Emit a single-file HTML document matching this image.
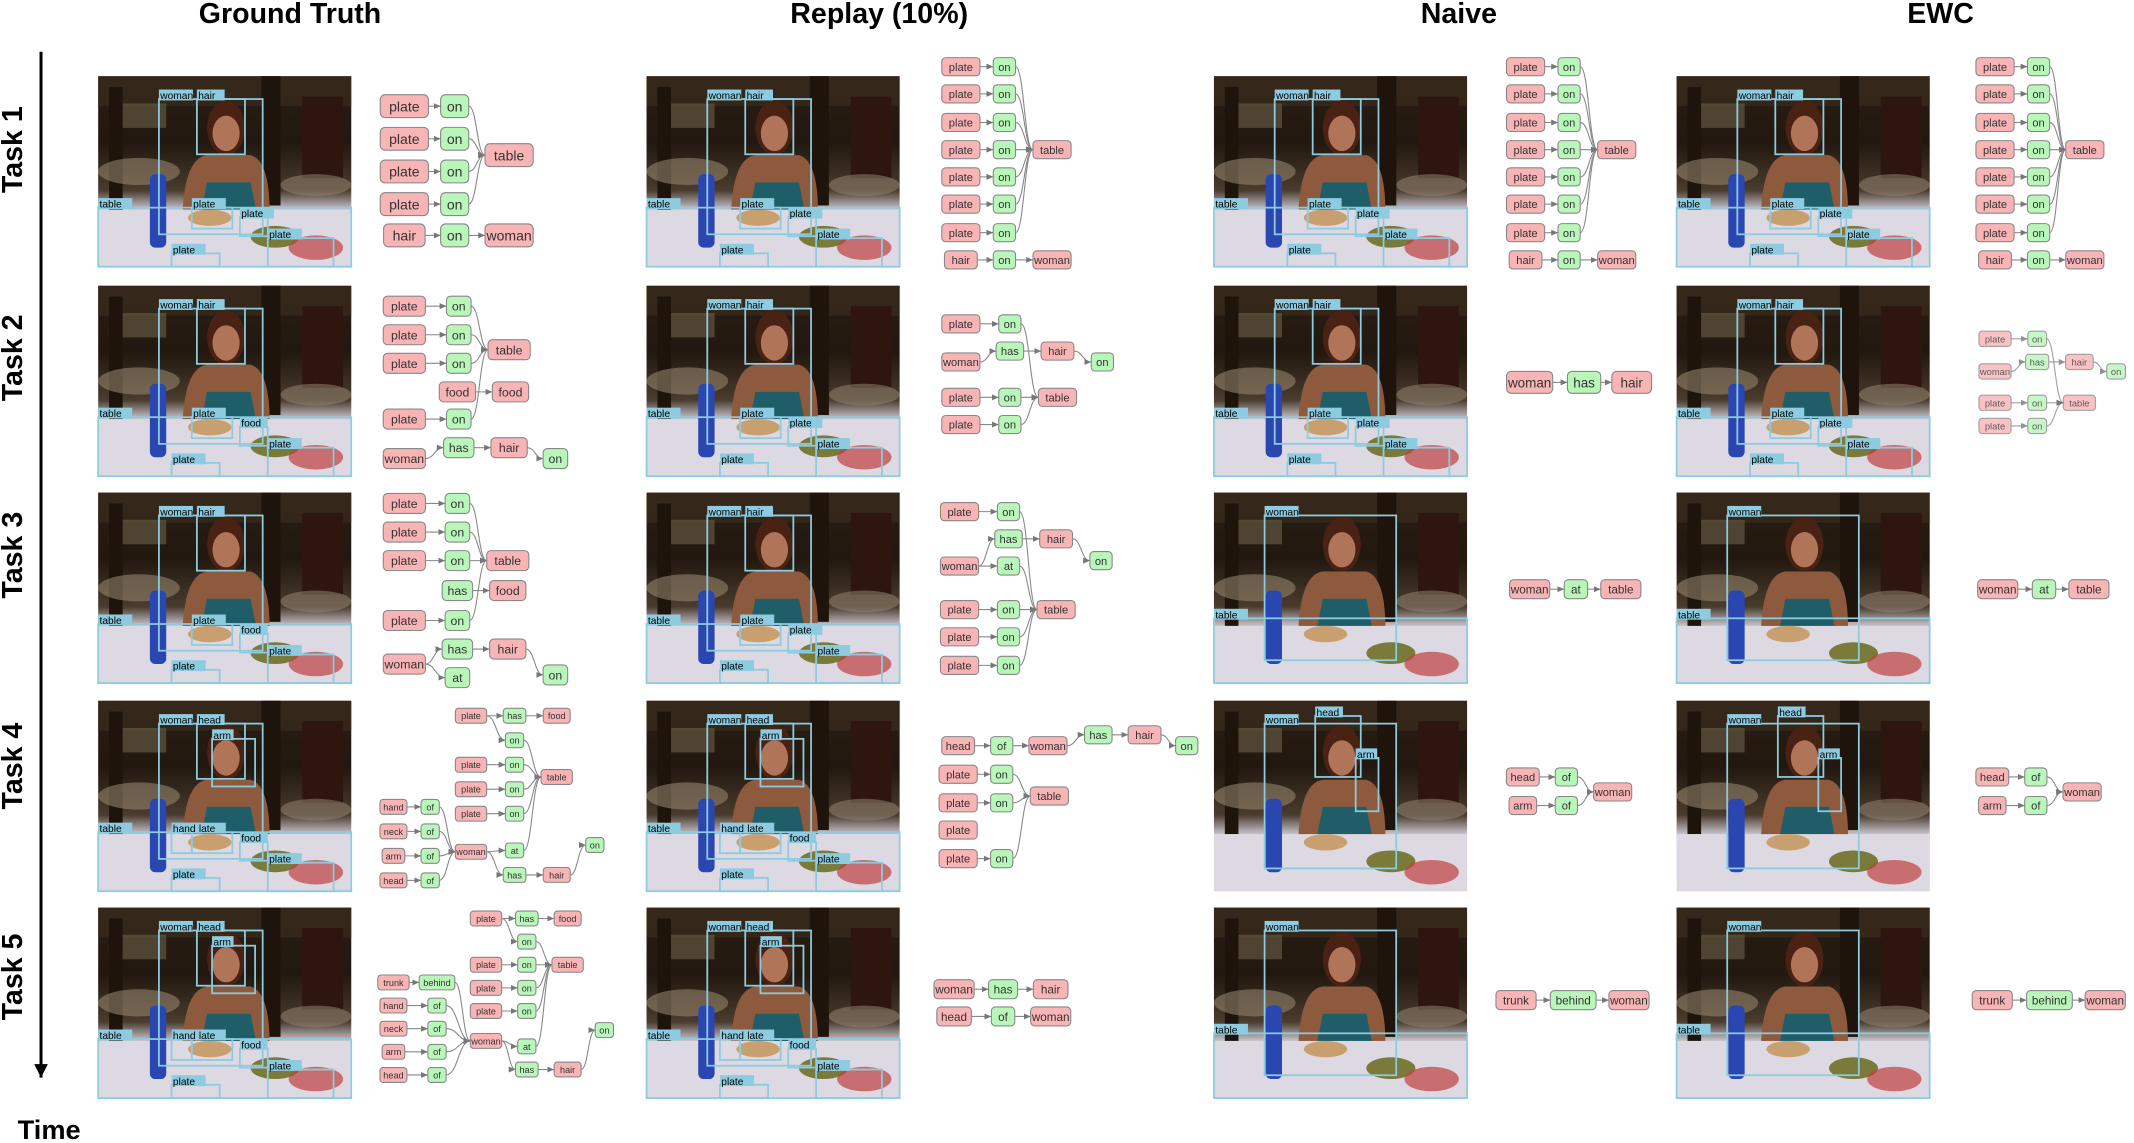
<!DOCTYPE html>
<html><head><meta charset="utf-8">
<style>
html,body{margin:0;padding:0;background:#fff;}
svg{display:block;}
text{font-family:"Liberation Sans",sans-serif;}
</style></head>
<body>
<svg id="s" width="2134" height="1143" viewBox="0 0 1568 840" xmlns="http://www.w3.org/2000/svg">
<defs>
<marker id="ar" markerWidth="6" markerHeight="6" refX="5" refY="3" orient="auto" markerUnits="userSpaceOnUse"><path d="M0,0.8 L5,3 L0,5.2z" fill="#777"/></marker>
<marker id="ax" markerWidth="12" markerHeight="12" refX="6" refY="10" orient="0" markerUnits="userSpaceOnUse"><path d="M1,0 L6,10 L11,0z" fill="#000"/></marker>
<linearGradient id="bg" x1="0" y1="0" x2="0" y2="1">
<stop offset="0" stop-color="#2a1e14"/><stop offset="0.35" stop-color="#22180f"/><stop offset="0.6" stop-color="#4a3c2e"/><stop offset="0.7" stop-color="#c8c4cc"/><stop offset="1" stop-color="#e2e0e8"/></linearGradient>
</defs>
<g font-weight="bold" font-size="21" text-anchor="middle" fill="#000">
<text x="213" y="17">Ground Truth</text>
<text x="646" y="17">Replay (10%)</text>
<text x="1072" y="17">Naive</text>
<text x="1426" y="17">EWC</text>
<text x="36" y="837" font-size="20">Time</text>
<text transform="translate(16,110) rotate(-90)" font-size="21">Task 1</text>
<text transform="translate(16,263) rotate(-90)" font-size="21">Task 2</text>
<text transform="translate(16,408) rotate(-90)" font-size="21">Task 3</text>
<text transform="translate(16,563) rotate(-90)" font-size="21">Task 4</text>
<text transform="translate(16,718) rotate(-90)" font-size="21">Task 5</text>
</g>
<line x1="30" y1="38" x2="30" y2="792" stroke="#000" stroke-width="2.2" marker-end="url(#ax)"/>
<g id="g"></g>
</svg>
<script>
var NS="http://www.w3.org/2000/svg",G=document.getElementById("g");
function el(t,a,p){var e=document.createElementNS(NS,t);for(var k in a)e.setAttribute(k,a[k]);(p||G).appendChild(e);return e;}
function photo(x,y,boxes){
 var W=186,H=140,g=el("g",{transform:"translate("+x+","+y+")"});
 el("rect",{x:0,y:0,width:W,height:H,fill:"url(#bg)"},g);
 el("rect",{x:0,y:0,width:W,height:22,fill:"#3a2c1c",opacity:.7},g);
 el("rect",{x:10,y:20,width:40,height:18,fill:"#6a6048",opacity:.6},g);
 el("rect",{x:150,y:15,width:30,height:60,fill:"#2e160f"},g);
 el("rect",{x:8,y:8,width:10,height:90,fill:"#1e140c"},g);
 el("rect",{x:120,y:0,width:14,height:95,fill:"#1e140c"},g);
 el("ellipse",{cx:30,cy:70,rx:30,ry:10,fill:"#9a8a72",opacity:.55},g);
 el("ellipse",{cx:160,cy:80,rx:26,ry:8,fill:"#928270",opacity:.55},g);
 el("path",{d:"M62,100 Q64,60 80,58 L112,58 Q126,62 126,100z",fill:"#8e5a3e"},g);
 el("path",{d:"M80,78 L112,78 L116,98 L76,98z",fill:"#1f5e68"},g);
 el("ellipse",{cx:94,cy:38,rx:14,ry:20,fill:"#4a2214"},g);
 el("ellipse",{cx:94,cy:42,rx:10,ry:13,fill:"#b07458"},g);
 el("rect",{x:0,y:98,width:W,height:42,fill:"#dcd9e2"},g);
 el("rect",{x:38,y:72,width:12,height:54,rx:4,fill:"#2a46b0"},g);
 el("ellipse",{cx:82,cy:104,rx:16,ry:6,fill:"#c8a070"},g);
 el("ellipse",{cx:130,cy:118,rx:18,ry:8,fill:"#7a7a3a"},g);
 el("ellipse",{cx:160,cy:126,rx:20,ry:9,fill:"#c04040",opacity:.7},g);
 boxes.forEach(function(b){
  el("rect",{x:b[0]*W,y:b[1]*H,width:(b[2]-b[0])*W,height:(b[3]-b[1])*H,fill:"none",stroke:"#8ccbe0","stroke-width":1.3},g);
  if(b[4]){el("rect",{x:b[0]*W,y:b[1]*H-7,width:b[4].length*4.6+2,height:8,fill:"#8ccbe0"},g);
   el("text",{x:b[0]*W+1,y:b[1]*H,"font-size":7.5,fill:"#000"},g).textContent=b[4];}
 });
}
var B1=[[.24,.12,.65,.83,"woman"],[.39,.12,.58,.41,"hair"],[0,.69,1,1,"table"],[.37,.69,.53,.8,"plate"],[.56,.74,.67,.84,"plate"],[.67,.85,.93,1,"plate"],[.29,.93,.48,1,"plate"]];
var B2=[[.24,.12,.65,.83,"woman"],[.39,.12,.58,.41,"hair"],[0,.69,1,1,"table"],[.37,.69,.53,.8,"plate"],[.56,.74,.67,.84,"food"],[.67,.85,.93,1,"plate"],[.29,.93,.48,1,"plate"]];
var B4=[[.24,.12,.65,.83,"woman"],[.39,.12,.58,.41,"head"],[.45,.2,.62,.45,"arm"],[0,.69,1,1,"table"],[.37,.69,.53,.8,"plate"],[.29,.69,.37,.8,"hand"],[.56,.74,.67,.84,"food"],[.67,.85,.93,1,"plate"],[.29,.93,.48,1,"plate"]];
var BN=[[.2,.12,.72,.88,"woman"],[0,.66,1,1,"table"]];
var BN4=[[.2,.12,.72,.88,"woman"],[.4,.08,.58,.4,"head"],[.56,.3,.65,.58,"arm"]];
var rows=[56,210,362,515,667];
var gt=[B1,B2,B2,B4,B4],rp=[B1,B1,B1,B4,B4],nv=[B1,B1,BN,BN4,BN],ew=[B1,B1,BN,BN4,BN];
for(var i=0;i<5;i++){photo(72,rows[i],gt[i]);photo(475,rows[i],rp[i]);photo(892,rows[i],nv[i]);photo(1232,rows[i],ew[i]);}
var N={};
function n(id,x,y,l,c,s,op){s=s||1;var w=(l.length*4.1+9)*s,h=14*s;
 N[id]={x:x,y:y,w:w,h:h};
 var g=el("g",{opacity:op||1});
 el("rect",{x:x-w/2,y:y-h/2,width:w,height:h,rx:3*s,fill:c=="p"?"#f9b4b6":"#b9f6b9",stroke:"#888","stroke-width":.8},g);
 el("text",{x:x,y:y+3.2*s,"font-size":8.6*s,"text-anchor":"middle",fill:"#333"},g).textContent=l;}
function e(a,b,op){var A=N[a],Bn=N[b];var x1=A.x+A.w/2,y1=A.y,x2=Bn.x-Bn.w/2,y2=Bn.y;
 if(x2<x1){x2=Bn.x+Bn.w/2;}
 var mx=(x1+x2)/2;
 el("path",{d:"M"+x1+","+y1+" C"+mx+","+y1+" "+mx+","+y2+" "+x2+","+y2,fill:"none",stroke:"#888","stroke-width":.8,"marker-end":"url(#ar)",opacity:op||1});}
function chain(p,list,s,op){list.forEach(function(q){n(p+q[0],q[1],q[2],q[3],q[4],s,op);});}
function edges(p,list,op){list.forEach(function(q){e(p+q[0],p+q[1],op);});}
function t1(p,x0,x1,x2,ys,yh,s){var L=[],E=[];ys.forEach(function(y,k){L.push(["p"+k,x0,y,"plate","p"]);L.push(["o"+k,x1,y,"on","g"]);E.push(["p"+k,"o"+k]);E.push(["o"+k,"t"]);});
 var ty=(ys[0]+ys[ys.length-1])/2;L.push(["t",x2,ty,"table","p"]);L.push(["h",x0,yh,"hair","p"]);L.push(["oh",x1,yh,"on","g"]);L.push(["w",x2,yh,"woman","p"]);E.push(["h","oh"]);E.push(["oh","w"]);
 chain(p,L,s);edges(p,E);}
t1("a",297,334,374,[78,102,126,150],173,1.2);
t1("b",706,738,773,[49,69,90,110,130,150,171],191,0.95);
t1("c",1121,1153,1188,[49,69,90,110,130,150,171],191,0.95);
t1("d",1466,1498,1532,[49,69,90,110,130,150,171],191,0.95);
chain("e",[["p1",297,225,"plate","p"],["o1",337,225,"on","g"],["p2",297,246,"plate","p"],["o2",337,246,"on","g"],["p3",297,267,"plate","p"],["o3",337,267,"on","g"],["t",374,257,"table","p"],["f1",336,288,"food","p"],["f2",375,288,"food","p"],["p4",297,308,"plate","p"],["o4",337,308,"on","g"],["w",297,337,"woman","p"],["h",337,329,"has","g"],["hr",374,329,"hair","p"],["on",408,337,"on","g"]],1.05);
edges("e",[["p1","o1"],["o1","t"],["p2","o2"],["o2","t"],["p3","o3"],["o3","t"],["f1","f2"],["p4","o4"],["o4","t"],["w","h"],["h","hr"],["hr","on"]]);
chain("f",[["p1",706,238,"plate","p"],["o1",742,238,"on","g"],["w",706,266,"woman","p"],["h",742,258,"has","g"],["hr",777,258,"hair","p"],["on",810,266,"on","g"],["p2",706,292,"plate","p"],["o2",742,292,"on","g"],["t",777,292,"table","p"],["p3",706,312,"plate","p"],["o3",742,312,"on","g"]],0.95);
edges("f",[["p1","o1"],["o1","t"],["w","h"],["h","hr"],["hr","on"],["p2","o2"],["o2","t"],["p3","o3"],["o3","t"]]);
chain("g",[["w",1124,281,"woman","p"],["h",1164,281,"has","g"],["hr",1199,281,"hair","p"]],1.15);
edges("g",[["w","h"],["h","hr"]]);
chain("h",[["p1",1466,249,"plate","p"],["o1",1497,249,"on","g"],["w",1466,273,"woman","p"],["h",1497,266,"has","g"],["hr",1528,266,"hair","p"],["on",1555,273,"on","g"],["p2",1466,296,"plate","p"],["o2",1497,296,"on","g"],["t",1528,296,"table","p"],["p3",1466,313,"plate","p"],["o3",1497,313,"on","g"]],0.8,0.8);
edges("h",[["p1","o1"],["o1","t"],["w","h"],["h","hr"],["hr","on"],["p2","o2"],["o2","t"],["p3","o3"],["o3","t"]],0.8);
chain("i",[["p1",297,370,"plate","p"],["o1",336,370,"on","g"],["p2",297,391,"plate","p"],["o2",336,391,"on","g"],["p3",297,412,"plate","p"],["o3",336,412,"on","g"],["t",373,412,"table","p"],["h1",336,434,"has","g"],["f",373,434,"food","p"],["p4",297,456,"plate","p"],["o4",336,456,"on","g"],["h2",336,477,"has","g"],["hr",373,477,"hair","p"],["w",297,488,"woman","p"],["at",336,498,"at","g"],["on",408,496,"on","g"]],1.05);
edges("i",[["p1","o1"],["o1","t"],["p2","o2"],["o2","t"],["p3","o3"],["o3","t"],["h1","f"],["p4","o4"],["o4","t"],["w","h2"],["h2","hr"],["w","at"],["hr","on"]]);
chain("j",[["p1",705,376,"plate","p"],["o1",741,376,"on","g"],["h",741,396,"has","g"],["hr",776,396,"hair","p"],["w",705,416,"woman","p"],["at",741,416,"at","g"],["on",809,412,"on","g"],["p2",705,448,"plate","p"],["o2",741,448,"on","g"],["t",776,448,"table","p"],["p3",705,468,"plate","p"],["o3",741,468,"on","g"],["p4",705,489,"plate","p"],["o4",741,489,"on","g"]],0.95);
edges("j",[["p1","o1"],["o1","t"],["w","h"],["h","hr"],["hr","on"],["w","at"],["at","t"],["p2","o2"],["o2","t"],["p3","o3"],["o3","t"],["p4","o4"],["o4","t"]]);
chain("k",[["w",1124,433,"woman","p"],["a",1158,433,"at","g"],["t",1191,433,"table","p"]],1.0);edges("k",[["w","a"],["a","t"]]);
chain("l",[["w",1468,433,"woman","p"],["a",1502,433,"at","g"],["t",1535,433,"table","p"]],1.0);edges("l",[["w","a"],["a","t"]]);
chain("m",[["p1",346,526,"plate","p"],["h1",378,526,"has","g"],["f",409,526,"food","p"],["o1",378,544,"on","g"],["p2",346,562,"plate","p"],["o2",378,562,"on","g"],["p3",346,580,"plate","p"],["o3",378,580,"on","g"],["t",409,571,"table","p"],["p4",346,598,"plate","p"],["o4",378,598,"on","g"],["hd",289,593,"hand","p"],["f1",316,593,"of","g"],["nk",289,611,"neck","p"],["f2",316,611,"of","g"],["am",289,629,"arm","p"],["f3",316,629,"of","g"],["he",289,647,"head","p"],["f4",316,647,"of","g"],["w",346,626,"woman","p"],["at",378,625,"at","g"],["on",437,621,"on","g"],["h2",378,643,"has","g"],["hr",409,643,"hair","p"]],0.78);
edges("m",[["p1","h1"],["h1","f"],["p1","o1"],["o1","t"],["p2","o2"],["o2","t"],["p3","o3"],["o3","t"],["p4","o4"],["o4","t"],["hd","f1"],["f1","w"],["nk","f2"],["f2","w"],["am","f3"],["f3","w"],["he","f4"],["f4","w"],["w","at"],["at","t"],["w","h2"],["h2","hr"],["hr","on"]]);
chain("n",[["he",704,548,"head","p"],["of",736,548,"of","g"],["w",770,548,"woman","p"],["h",807,540,"has","g"],["hr",841,540,"hair","p"],["on",872,548,"on","g"],["p1",704,569,"plate","p"],["o1",736,569,"on","g"],["t",771,585,"table","p"],["p2",704,590,"plate","p"],["o2",736,590,"on","g"],["p3",704,610,"plate","p"],["p4",704,631,"plate","p"],["o4",736,631,"on","g"]],0.95);
edges("n",[["he","of"],["of","w"],["w","h"],["h","hr"],["hr","on"],["p1","o1"],["o1","t"],["p2","o2"],["o2","t"],["p4","o4"],["o4","t"]]);
chain("o",[["he",1119,571,"head","p"],["f1",1151,571,"of","g"],["w",1185,582,"woman","p"],["am",1119,592,"arm","p"],["f2",1151,592,"of","g"]],0.95);edges("o",[["he","f1"],["f1","w"],["am","f2"],["f2","w"]]);
chain("q",[["he",1464,571,"head","p"],["f1",1496,571,"of","g"],["w",1530,582,"woman","p"],["am",1464,592,"arm","p"],["f2",1496,592,"of","g"]],0.95);edges("q",[["he","f1"],["f1","w"],["am","f2"],["f2","w"]]);
chain("r",[["p1",357,675,"plate","p"],["h1",387,675,"has","g"],["f",417,675,"food","p"],["o1",387,692,"on","g"],["p2",357,709,"plate","p"],["o2",387,709,"on","g"],["t",417,709,"table","p"],["p3",357,726,"plate","p"],["o3",387,726,"on","g"],["p4",357,743,"plate","p"],["o4",387,743,"on","g"],["tr",289,722,"trunk","p"],["bh",321,722,"behind","g"],["hd",289,739,"hand","p"],["f1",321,739,"of","g"],["nk",289,756,"neck","p"],["f2",321,756,"of","g"],["am",289,773,"arm","p"],["f3",321,773,"of","g"],["he",289,790,"head","p"],["f4",321,790,"of","g"],["w",357,765,"woman","p"],["at",387,769,"at","g"],["on",444,757,"on","g"],["h2",387,786,"has","g"],["hr",417,786,"hair","p"]],0.78);
edges("r",[["p1","h1"],["h1","f"],["p1","o1"],["o1","t"],["p2","o2"],["o2","t"],["p3","o3"],["o3","t"],["p4","o4"],["o4","t"],["tr","bh"],["bh","w"],["hd","f1"],["f1","w"],["nk","f2"],["f2","w"],["am","f3"],["f3","w"],["he","f4"],["f4","w"],["w","at"],["at","t"],["w","h2"],["h2","hr"],["hr","on"]]);
chain("s",[["w",701,727,"woman","p"],["h",737,727,"has","g"],["hr",772,727,"hair","p"],["he",701,747,"head","p"],["of",737,747,"of","g"],["w2",772,747,"woman","p"]],1.0);edges("s",[["w","h"],["h","hr"],["he","of"],["of","w2"]]);
chain("u",[["t",1114,735,"trunk","p"],["b",1156,735,"behind","g"],["w",1197,735,"woman","p"]],1.0);edges("u",[["t","b"],["b","w"]]);
chain("v",[["t",1464,735,"trunk","p"],["b",1506,735,"behind","g"],["w",1547,735,"woman","p"]],1.0);edges("v",[["t","b"],["b","w"]]);
</script>
</body></html>
